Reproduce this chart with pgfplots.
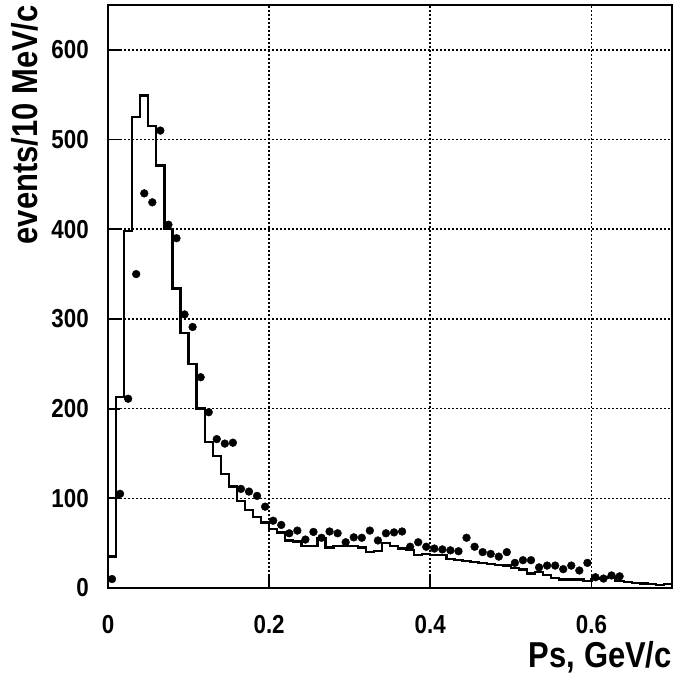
\documentclass[border=0pt]{standalone}
\usepackage{pgfplots}
\pgfplotsset{compat=1.18}
\usepackage{pgfplotstable}
\usepackage{fontspec}
\setmainfont{Liberation Sans}[FakeStretch=0.86]

\pgfplotstableread{
x y
0.00 35
0.01 213
0.02 398
0.03 525
0.04 549
0.05 515
0.06 471
0.07 400
0.08 334
0.09 284
0.10 250
0.11 200
0.12 163
0.13 147
0.14 127
0.15 113
0.16 97
0.17 87
0.18 79
0.19 73
0.20 66
0.21 62
0.22 53
0.23 52
0.24 46.5
0.25 46.5
0.26 56
0.27 45
0.28 47
0.29 47
0.30 47
0.31 45
0.32 40
0.33 41
0.34 50
0.35 46.5
0.36 44
0.37 42
0.38 37
0.39 38
0.40 37
0.41 36.5
0.42 32
0.43 31
0.44 30
0.45 28.7
0.46 27.5
0.47 26.8
0.48 25.7
0.49 25
0.50 22
0.51 20.5
0.52 16
0.53 18
0.54 14.6
0.55 11.3
0.56 9.5
0.57 9.4
0.58 9.4
0.59 7.5
0.60 10
0.61 11
0.62 12
0.63 7.5
0.64 6.8
0.65 5.7
0.66 5
0.67 4.5
0.68 3
0.69 4.5
0.70 4.5
}\histo

\pgfplotstableread{
x y
0.005 10
0.015 105
0.025 211
0.035 350
0.045 440
0.055 430
0.065 510
0.075 405
0.085 390
0.095 305
0.105 291
0.115 235
0.125 196
0.135 166
0.145 161
0.155 162
0.165 110.5
0.175 107.5
0.185 102.7
0.195 90.7
0.205 75
0.215 70.3
0.225 61
0.235 64
0.245 54
0.255 62.5
0.265 56
0.275 63
0.285 61
0.295 51
0.305 56.5
0.315 56
0.325 64
0.335 53
0.345 61
0.355 62
0.365 63
0.375 46
0.385 51
0.395 46
0.405 44
0.415 43
0.425 42
0.435 41
0.445 56
0.455 46
0.465 40
0.475 38
0.485 35
0.495 40
0.505 28
0.515 31
0.525 31
0.535 23
0.545 25
0.555 25
0.565 21
0.575 25
0.585 19.5
0.595 28
0.605 12
0.615 10.5
0.625 14
0.635 13
}\datapts

\begin{document}
\begin{tikzpicture}
\begin{axis}[
  at={(0,0)}, anchor=south west,
  scale only axis, width=564pt, height=583pt,
  xmin=0, xmax=0.7, ymin=0, ymax=650,
  axis line style={line width=2pt, black},
  xtick={0,0.2,0.4,0.6}, xticklabels={0,0.2,0.4,0.6},
  ytick={0,100,200,300,400,500,600},
  yticklabels={0,100,200,300,400,500,600},
  minor tick num=0,
  tick align=inside, major tick length=12pt,
  tick style={line width=1.8pt, black},
  xtick pos=left, ytick pos=left,
  grid=major,
  major grid style={black, line width=1.6pt, dash pattern=on 1.6pt off 2.4pt},
  every tick label/.append style={font=\fontsize{26}{30}\selectfont\bfseries, inner sep=0pt},
  xticklabel style={anchor=north},
  xticklabel shift=27pt,
  yticklabel style={anchor=east},
  yticklabel shift=19pt,
  clip=false,
]
\addplot[const plot mark left, black, line width=2.3pt, no marks] table[x=x, y=y] {\histo};
\addplot[only marks, mark=*, mark size=3.9pt, black] table[x=x, y=y] {\datapts};
\end{axis}
\node[rotate=90, anchor=base east, inner sep=0pt, font=\fontsize{36}{40}\selectfont\bfseries] at (-70pt,583pt) {events/10 MeV/c};
\node[anchor=base east, inner sep=0pt, font=\fontsize{36}{40}\selectfont\bfseries] at (564pt,-79pt) {Ps, GeV/c};
\pgfresetboundingbox
\path[use as bounding box] (-108pt,-87pt) rectangle (565pt,588pt);
\end{tikzpicture}
\end{document}
